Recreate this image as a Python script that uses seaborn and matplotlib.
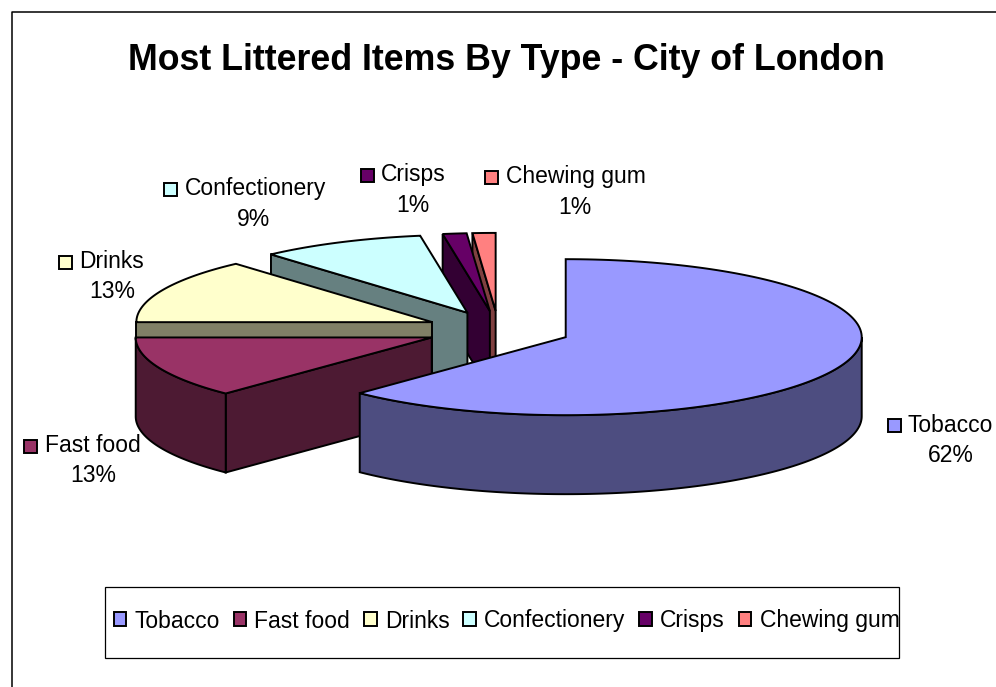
import numpy as np
import matplotlib
matplotlib.use("Agg")
import matplotlib.pyplot as plt
from matplotlib.patches import Polygon, Rectangle, Patch
import seaborn as sns

# ---- data ----
categories = ["Tobacco", "Fast food", "Drinks", "Confectionery", "Crisps", "Chewing gum"]
values = [62.25, 12.75, 13.45, 9.0, 1.3, 1.25]
colors = ["#9999FF", "#993366", "#FFFFCC", "#CCFFFF", "#660066", "#FF8080"]
title = "Most Littered Items By Type - City of London"

# ---- layout (pixels) ----
W, H = 996, 687
CX, CY, RX, RY, DEPTH, EXPLODE = 498.5, 330.0, 296.0, 78.0, 79.0, 0.245
LW = 1.4
FS = 16.5
label_layout = {
    "Tobacco": (888, 425, 908, 426, 951, 456),
    "Fast food": (24, 446, 45, 446, 93, 476),
    "Drinks": (59, 262, 79, 262, 112, 292),
    "Confectionery": (164, 189, 185, 189, 254, 219),
    "Crisps": (361, 175, 381, 175, 413, 205),
    "Chewing gum": (485, 177, 506, 177, 575, 207),
}

sns.set_theme(style="white")
plt.rcParams["font.family"] = ["Liberation Sans", "DejaVu Sans"]
palette = sns.color_palette(colors)

fig = plt.figure(figsize=(W / 100, H / 100), dpi=100, facecolor="white")
ax = fig.add_axes([0, 0, 1, 1])
ax.set_xlim(0, W)
ax.set_ylim(H, 0)
ax.axis("off")

# outer frame (runs off the right and bottom of the crop)
ax.plot([12, 12, W + 5], [H + 5, 12, 12], color="black", lw=1.1, zorder=1)


def rim(cx, cy, deg):
    t = np.radians(deg)
    return np.column_stack([cx + RX * np.sin(t), cy - RY * np.cos(t)])


total = sum(values)
edges = np.concatenate([[0], np.cumsum(values) / total * 360])
z = 2
# painter's order: the smallest, furthest slices first
for i in range(len(values) - 1, -1, -1):
    a, b = edges[i], edges[i + 1]
    mid = np.radians((a + b) / 2)
    cx = CX + EXPLODE * RX * np.sin(mid)
    cy = CY - EXPLODE * RY * np.cos(mid)
    top = palette[i]
    dark = tuple(c * 0.5 for c in top)
    arc = rim(cx, cy, np.linspace(a, b, 160))
    apex = np.array([[cx, cy]])
    drop = np.array([0, DEPTH])

    # radial cut face at the start angle
    if a > 0:
        start = np.vstack([arc[:1], apex, apex + drop, arc[:1] + drop])
        ax.add_patch(Polygon(start, closed=True, fc=dark, ec="black", lw=LW, zorder=z))
        z += 1
    # outer wall, front half only
    lo, hi = max(a, 90), min(b, 270)
    if hi > lo:
        front = rim(cx, cy, np.linspace(lo, hi, 160))
        wall = np.vstack([front, (front + drop)[::-1]])
        ax.add_patch(Polygon(wall, closed=True, fc=dark, ec="black", lw=LW, zorder=z))
        z += 1
    # top face
    ax.add_patch(Polygon(np.vstack([apex, arc]), closed=True, fc=top, ec="black",
                         lw=LW, joinstyle="miter", zorder=z))
    z += 1

# title
ax.text(506, 61, title, ha="center", va="center", fontsize=25.75,
        fontweight="bold", color="black", zorder=z)

# data labels
for i, name in enumerate(categories):
    sx, sy, tx, ty, px, py = label_layout[name]
    ax.add_patch(Rectangle((sx, sy - 6.5), 12.5, 13, fc=palette[i], ec="black", lw=LW, zorder=z))
    ax.text(tx, ty, name, ha="left", va="center", fontsize=FS, color="black", zorder=z)
    ax.text(px, py, f"{round(values[i] / total * 100)}%", ha="center", va="center",
            fontsize=FS, color="black", zorder=z)

# legend
ax.add_patch(Rectangle((105, 587), 794, 71, fc="white", ec="black", lw=0.9, zorder=z))
handles = [Patch(fc=palette[i], ec="black", lw=LW, label=n) for i, n in enumerate(categories)]
leg = ax.legend(handles=handles, ncol=6, frameon=False, fontsize=FS, labelcolor="black",
                loc="center", bbox_to_anchor=(506.5 / W, 1 - 621 / H),
                bbox_transform=fig.transFigure,
                handlelength=0.55, handleheight=0.55, handletextpad=0.36,
                columnspacing=0.6, borderpad=0, borderaxespad=0)
leg.set_zorder(z + 1)

fig.savefig("out.png", dpi=100, facecolor="white")
